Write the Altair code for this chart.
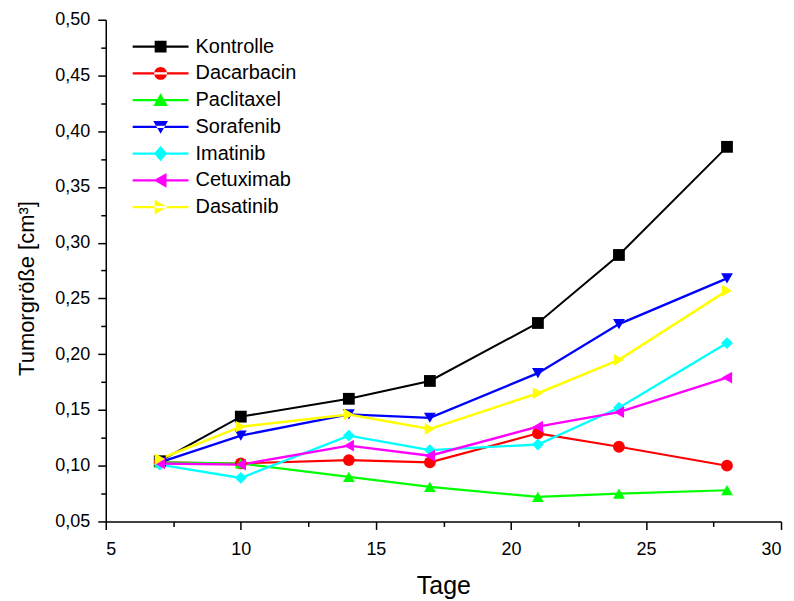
import altair as alt
import pandas as pd

days = [7, 10, 14, 17, 21, 24, 28]
series_names = ["Kontrolle", "Dacarbacin", "Paclitaxel", "Sorafenib",
                "Imatinib", "Cetuximab", "Dasatinib"]
kontrolle = [0.104, 0.144, 0.160, 0.176, 0.228, 0.289, 0.386]
dacarbacin = [0.103, 0.102, 0.105, 0.103, 0.129, 0.117, 0.100]
paclitaxel = [0.103, 0.102, 0.090, 0.081, 0.072, 0.075, 0.078]
sorafenib = [0.103, 0.127, 0.146, 0.143, 0.183, 0.227, 0.268]
imatinib = [0.101, 0.089, 0.127, 0.114, 0.119, 0.152, 0.210]
cetuximab = [0.102, 0.101, 0.118, 0.109, 0.135, 0.148, 0.179]
dasatinib = [0.106, 0.135, 0.146, 0.133, 0.165, 0.195, 0.257]
colors = ["#000000", "#FF0000", "#00FF00", "#0000FF", "#00FFFF", "#FF00FF", "#FFFF00"]
line_widths = [2, 2.5, 2.5, 2.5, 2.5, 2.5, 2.5]
marker_shapes = ["square", "circle", "triangle-up", "triangle-down",
                 "diamond", "triangle-left", "triangle-right"]
x_ticks = [5, 7.5, 10, 12.5, 15, 17.5, 20, 22.5, 25, 27.5, 30]
y_ticks = [0.05 + 0.025 * i for i in range(19)]

all_values = [kontrolle, dacarbacin, paclitaxel, sorafenib, imatinib, cetuximab, dasatinib]
rows = []
for name, vals in zip(series_names, all_values):
    for d, v in zip(days, vals):
        rows.append({"Tage": d, "Wert": v, "Serie": name})
df = pd.DataFrame(rows)

# legend symbols: a horizontal line plus marker (unit = sqrt(size)/2 px)
line_part = "M-4,-0.16H4V0.16H-4Z"
legend_markers = [
    "M-0.85,-0.85H0.85V0.85H-0.85Z",
    "M-0.92,0A0.92,0.92 0 1,0 0.92,0A0.92,0.92 0 1,0 -0.92,0Z",
    "M0,-1L1.05,0.85L-1.05,0.85Z",
    "M0,1L1.05,-0.85L-1.05,-0.85Z",
    "M0,-1.1L0.95,0L0,1.1L-0.95,0Z",
    "M-1,0L0.85,-1.05L0.85,1.05Z",
    "M1,0L-0.85,-1.05L-0.85,1.05Z",
]
legend_paths = [line_part + mk for mk in legend_markers]

font = "Liberation Sans"

x_enc = alt.X("Tage:Q", scale=alt.Scale(domain=[5, 30], nice=False, zero=False),
              axis=alt.Axis(values=x_ticks, title="Tage",
                            labelExpr="datum.value % 5 == 0 ? format(datum.value, 'd') : ''",
                            tickSize={"condition": {"test": "datum.value % 5 == 0", "value": 8}, "value": 5},
                            labelPadding=11, titlePadding=15, titleFontSize=25))
y_enc = alt.Y("Wert:Q", scale=alt.Scale(domain=[0.05, 0.5], nice=False, zero=False),
              axis=alt.Axis(values=y_ticks, title="Tumorgröße [cm³]",
                            labelExpr="round(datum.value*1000) % 50 == 0 ? replace(format(datum.value, '.2f'), '.', ',') : ''",
                            tickSize={"condition": {"test": "round(datum.value*1000) % 50 == 0", "value": 8}, "value": 5},
                            labelPadding=8, titlePadding=16, titleFontSize=22, titleY=269))

color_scale = alt.Scale(domain=series_names, range=colors)

lines = alt.Chart(df).mark_line().encode(
    x=x_enc, y=y_enc,
    color=alt.Color("Serie:N", scale=color_scale, legend=None),
    strokeWidth=alt.StrokeWidth("Serie:N", scale=alt.Scale(domain=series_names, range=line_widths), legend=None),
    order=alt.Order("Tage:Q"),
)

points = alt.Chart(df).mark_point(filled=True, size=140, opacity=1).encode(
    x=x_enc, y=y_enc,
    color=alt.Color("Serie:N", scale=color_scale, legend=None),
    shape=alt.Shape("Serie:N", scale=alt.Scale(domain=series_names, range=marker_shapes), legend=None),
)

legend_layer = alt.Chart(df).transform_filter("false").mark_point(
    filled=True, size=196, opacity=1).encode(
    x=x_enc, y=y_enc,
    color=alt.Color("Serie:N", scale=color_scale,
                    legend=alt.Legend(title=None, orient="none", legendX=45, legendY=17,
                                      labelFont=font, labelFontSize=20, labelColor="black",
                                      labelOffset=25, rowPadding=6.8, symbolStrokeWidth=0,
                                      symbolSize=196, symbolOpacity=1)),
    shape=alt.Shape("Serie:N", scale=alt.Scale(domain=series_names, range=legend_paths)),
)

chart = alt.layer(lines, points, legend_layer).resolve_scale(
    color="independent", shape="independent"
).properties(
    width=677, height=503,
    autosize=alt.AutoSizeParams(type="none"),
    padding={"left": 98, "top": 11, "right": 5, "bottom": 78},
).configure_view(stroke=None).configure_axis(
    grid=False, domainColor="black", domainWidth=1.5, tickColor="black", tickWidth=1.5,
    labelFont=font, labelFontSize=18, labelColor="black",
    titleFont=font, titleFontWeight="normal", titleColor="black",
)

chart.save("out.html", embed_options={"renderer": "svg", "actions": False})
